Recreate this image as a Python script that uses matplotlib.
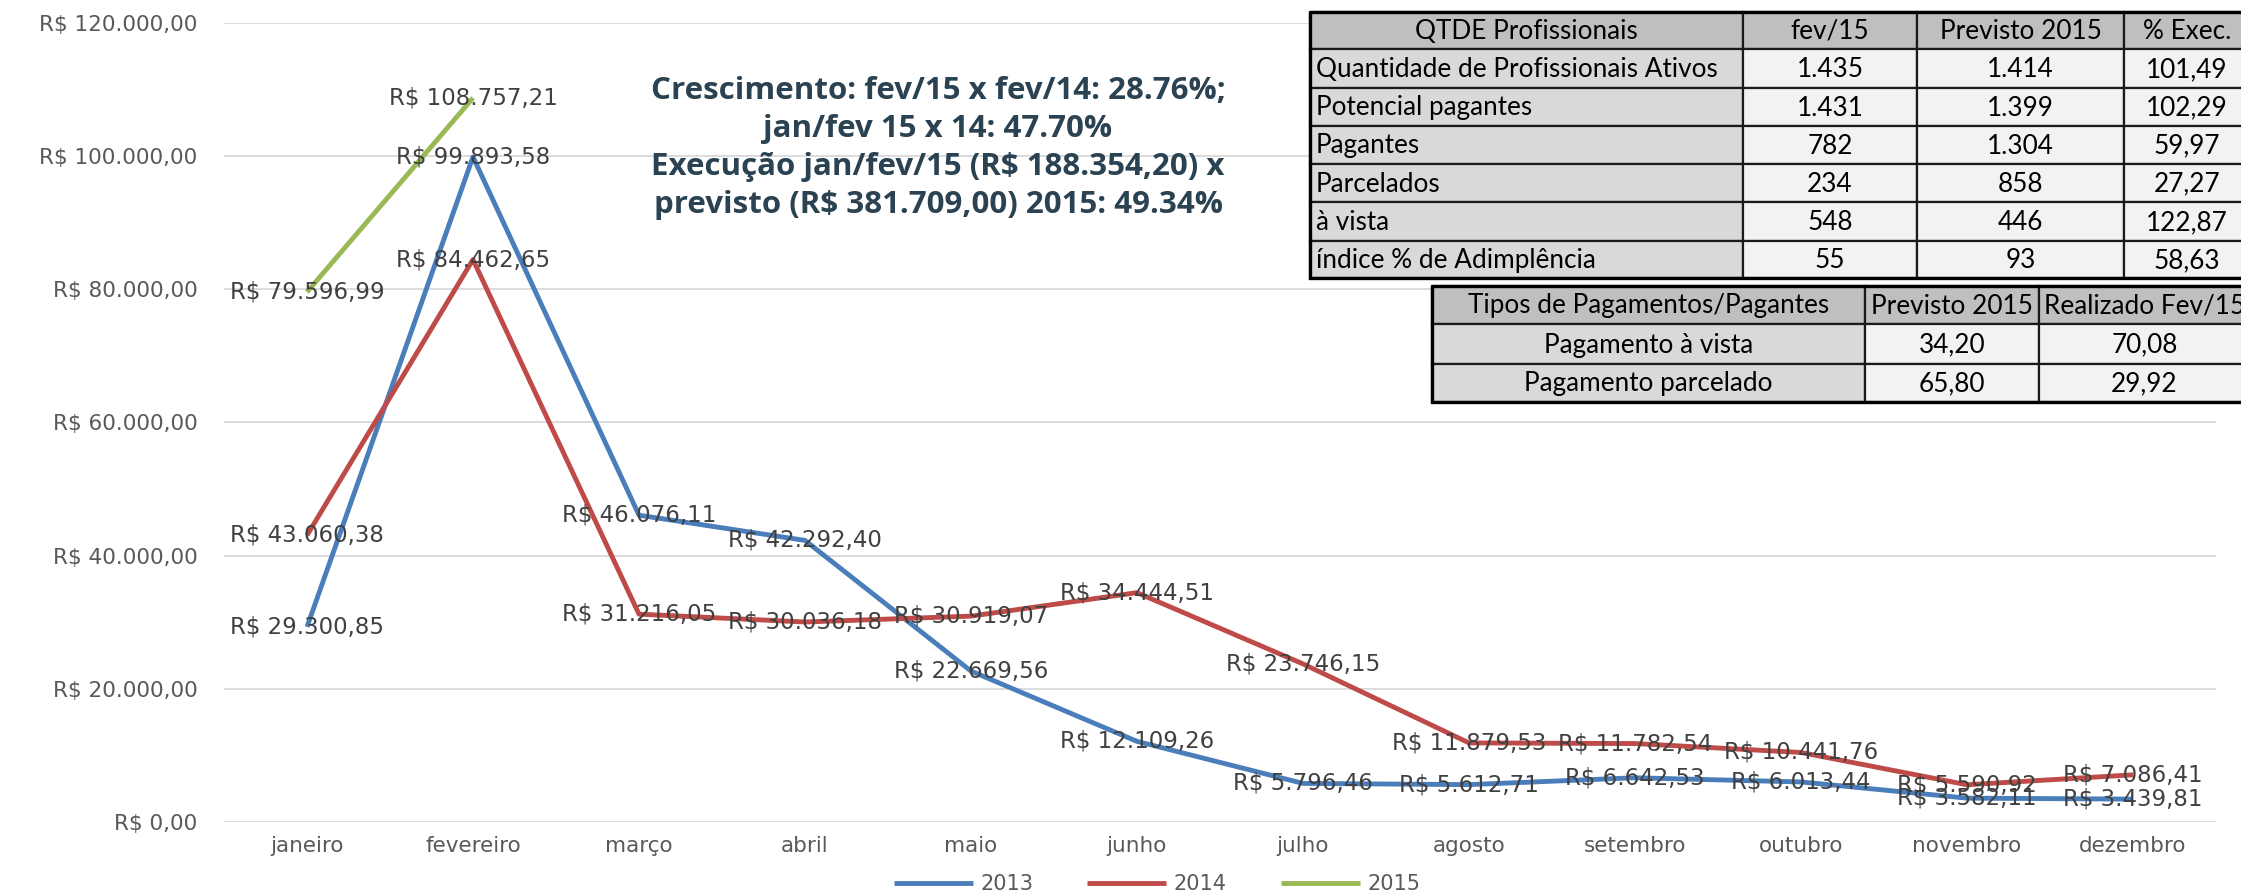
import matplotlib
matplotlib.use('Agg')
import matplotlib.pyplot as plt
from matplotlib.ticker import FuncFormatter, FixedLocator
from matplotlib.patches import Rectangle

# ---------------- data ----------------
months = ['janeiro', 'fevereiro', 'março', 'abril', 'maio', 'junho',
          'julho', 'agosto', 'setembro', 'outubro', 'novembro', 'dezembro']
vals_2013 = [29300.85, 99893.58, 46076.11, 42292.40, 22669.56, 12109.26,
             5796.46, 5612.71, 6642.53, 6013.44, 3582.11, 3439.81]
vals_2014 = [43060.38, 84462.65, 31216.05, 30036.18, 30919.07, 34444.51,
             23746.15, 11879.53, 11782.54, 10441.76, 5590.92, 7086.41]
vals_2015 = [79596.99, 108757.21]
series_names = ['2013', '2014', '2015']
y_ticks = [0, 20000, 40000, 60000, 80000, 100000, 120000]

title_lines = ["Crescimento: fev/15 x fev/14: 28.76%;",
               "jan/fev 15 x 14: 47.70%",
               "Execução jan/fev/15 (R$ 188.354,20) x",
               "previsto (R$ 381.709,00) 2015: 49.34%"]

t1_header = ["QTDE Profissionais", "fev/15", "Previsto 2015", "% Exec."]
t1_labels = ["Quantidade de Profissionais Ativos", "Potencial pagantes", "Pagantes",
             "Parcelados", "à vista", "índice % de Adimplência"]
t1_fev15 = ["1.435", "1.431", "782", "234", "548", "55"]
t1_prev = ["1.414", "1.399", "1.304", "858", "446", "93"]
t1_exec = ["101,49", "102,29", "59,97", "27,27", "122,87", "58,63"]

t2_header = ["Tipos de Pagamentos/Pagantes", "Previsto 2015", "Realizado Fev/15"]
t2_labels = ["Pagamento à vista", "Pagamento parcelado"]
t2_prev = ["34,20", "65,80"]
t2_real = ["70,08", "29,92"]

# ---------------- styling ----------------
colors = ['#4A7EBB', '#BE4B48', '#98B954']
W, H = 2241, 893


def brl(v, pos=None):
    s = f"{v:,.2f}"
    s = s.replace(',', 'X').replace('.', ',').replace('X', '.')
    return "R$ " + s


fig = plt.figure(figsize=(W / 100, H / 100), dpi=100)
fig.patch.set_facecolor('white')

ax = fig.add_axes([224 / W, 1 - 822 / H, (2216 - 224) / W, (822 - 23) / H])
ax.set_xlim(-0.5, 11.5)
ax.set_ylim(0, 120000)
for s in ax.spines.values():
    s.set_visible(False)
ax.yaxis.set_major_locator(FixedLocator(y_ticks))
ax.yaxis.set_major_formatter(FuncFormatter(brl))
ax.set_xticks(range(len(months)))
ax.set_xticklabels(months)
ax.tick_params(axis='both', length=0, labelsize=15.5, colors='#595959')
ax.tick_params(axis='y', pad=19)
ax.tick_params(axis='x', pad=10)
for lab in ax.get_xticklabels() + ax.get_yticklabels():
    lab.set_family('DejaVu Sans')
ax.grid(axis='y', color='#D9D9D9', linewidth=1.3)
ax.set_axisbelow(True)

handles = []
for vals, name, c in zip([vals_2013, vals_2014, vals_2015], series_names, colors):
    xs = list(range(len(vals)))
    ln, = ax.plot(xs, vals, color=c, linewidth=3.5, solid_joinstyle='round',
                  solid_capstyle='butt', label=name, zorder=3)
    handles.append(ln)

for vals in [vals_2013, vals_2014, vals_2015]:
    for i, v in enumerate(vals):
        ax.text(i, v, brl(v), ha='center', va='center', fontsize=16.5,
                color='#404040', family='DejaVu Sans', zorder=5)

leg = fig.legend(handles=handles, loc='center', bbox_to_anchor=(1157 / W, 1 - 884 / H),
                 ncol=3, frameon=False, fontsize=15, handlelength=3.8,
                 handletextpad=0.35, columnspacing=2.6, borderpad=0)
for t in leg.get_texts():
    t.set_color('#595959')

# ---------------- overlay (title text + tables) ----------------
ov = fig.add_axes([0, 0, 1, 1], zorder=10)
ov.set_xlim(0, W)
ov.set_ylim(H, 0)
ov.axis('off')

title_y = [91, 129, 167, 205]
for line, yy in zip(title_lines, title_y):
    ov.text(938, yy, line, ha='center', va='center', fontsize=22.5, fontweight='bold',
            family='Open Sans', color='#2B4252')

tfont = dict(family='Lato', fontsize=18.8, color='black')


def draw_table(cols, rows, cells, fills, align):
    for r in range(len(rows) - 1):
        for c in range(len(cols) - 1):
            x0, x1 = cols[c], cols[c + 1]
            y0, y1 = rows[r], rows[r + 1]
            ov.add_patch(Rectangle((x0, y0), x1 - x0, y1 - y0, facecolor=fills[r][c],
                                   edgecolor='#1a1a1a', linewidth=1.6))
            if align[r][c] == 'left':
                ov.text(x0 + 6, (y0 + y1) / 2 + 1, cells[r][c], ha='left', va='center', **tfont)
            else:
                ov.text((x0 + x1) / 2, (y0 + y1) / 2 + 1, cells[r][c], ha='center',
                        va='center', **tfont)
    ov.add_patch(Rectangle((cols[0], rows[0]), cols[-1] - cols[0], rows[-1] - rows[0],
                           facecolor='none', edgecolor='black', linewidth=2.4))


# table 1
t1_cols = [1310, 1743, 1917, 2124, 2250]
t1_rows = [12, 49, 88, 126, 164, 202, 241, 278]
cells1 = [t1_header] + [[a, b, c, d] for a, b, c, d in zip(t1_labels, t1_fev15, t1_prev, t1_exec)]
fills1 = [['#BFBFBF'] * 4] + [['#D9D9D9', '#F2F2F2', '#F2F2F2', '#F2F2F2']] * len(t1_labels)
align1 = [['center'] * 4] + [['left', 'center', 'center', 'center']] * len(t1_labels)
draw_table(t1_cols, t1_rows, cells1, fills1, align1)

# table 2
t2_cols = [1432, 1865, 2039, 2250]
t2_rows = [286, 324, 364, 402]
cells2 = [t2_header] + [[a, b, c] for a, b, c in zip(t2_labels, t2_prev, t2_real)]
fills2 = [['#BFBFBF'] * 3] + [['#D9D9D9', '#F2F2F2', '#F2F2F2']] * len(t2_labels)
align2 = [['center'] * 3] * 3
draw_table(t2_cols, t2_rows, cells2, fills2, align2)

fig.savefig('out.png', dpi=100, facecolor='white')
